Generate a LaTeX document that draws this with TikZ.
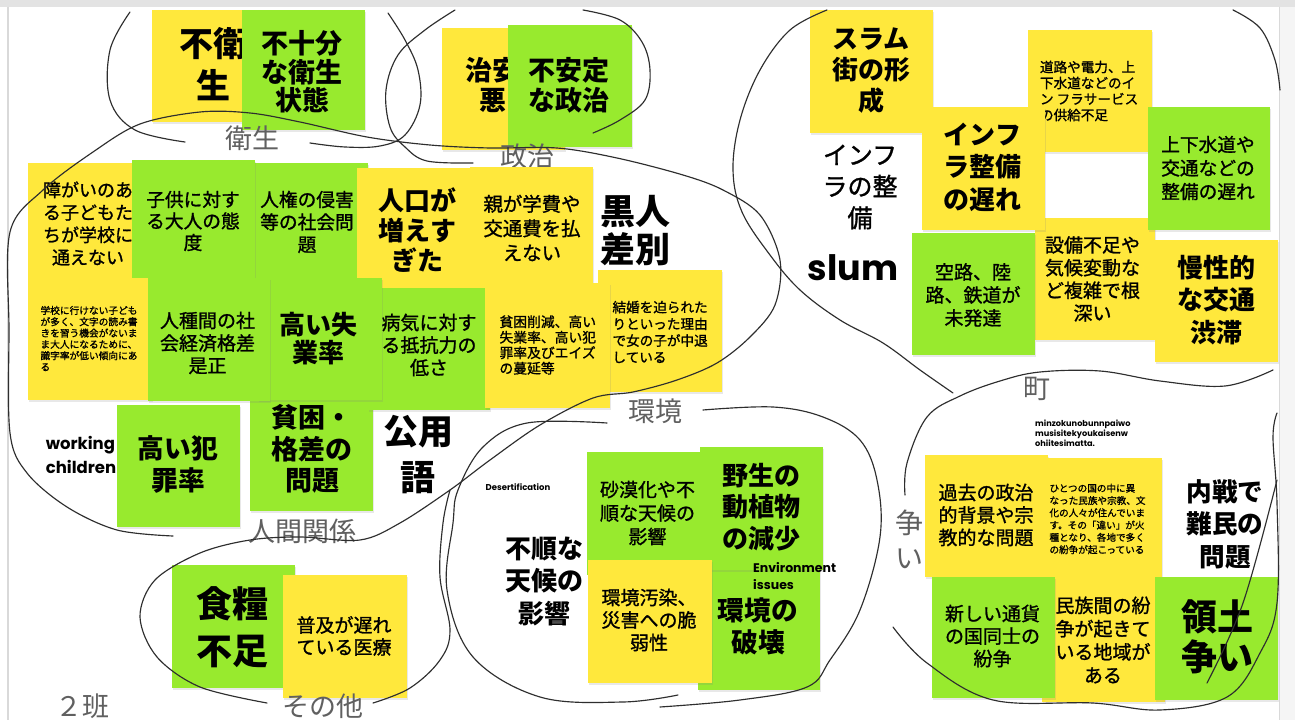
\documentclass[tikz,border=0pt]{standalone}
\usepackage{fontspec}
\newfontfamily\jpf{Noto Sans CJK JP}
\newfontfamily\jpm{Noto Sans CJK JP}[FakeBold=1.2]
\newfontfamily\popf{Poppins}
\usetikzlibrary{shadows}
\definecolor{yel}{HTML}{FFE83C}
\definecolor{grn}{HTML}{98EA2E}
\definecolor{lab}{HTML}{606060}
\definecolor{pen}{HTML}{2E2E2E}
\begin{document}
\begin{tikzpicture}[x=1bp,y=-1bp,
 stk/.style={fill=#1, draw=none, inner sep=0pt, outer sep=0pt, drop shadow={opacity=0.18, shadow xshift=0.8bp, shadow yshift=-1.6bp}},
 tr/.style 2 args={font={\jpm\fontsize{#1bp}{#2bp}\selectfont}, align=center, inner sep=0pt},
 tb/.style 2 args={font={\jpf\bfseries\fontsize{#1bp}{#2bp}\selectfont}, align=center, inner sep=0pt},
 ts/.style n args={3}{font={\jpm\fontsize{#1bp}{#2bp}\selectfont}, text width=#3bp, align=flush left, inner sep=0pt},
 lb/.style={font={\jpf\fontsize{27bp}{34bp}\selectfont}, text=lab, align=center, inner sep=0pt},
 en/.style 2 args={font={\popf\bfseries\fontsize{#1bp}{#2bp}\selectfont}, align=left, inner sep=0pt},
 ink/.style={draw=pen, line width=1.15bp, line cap=round, line join=round}
]
\useasboundingbox (0,0) rectangle (1295,720);
\fill[white] (0,0) rectangle (1295,720);
% frame
\fill[black!11] (0,0) rectangle (1295,7);
\fill[black!4] (1279,7) rectangle (1295,720);
\draw[black!15, line width=1bp] (1279,7) -- (1279,720);
\draw[black!15, line width=2bp] (7.5,7) -- (7.5,720);

% ---- top left: eisei
\node[stk=yel, minimum width=120bp, minimum height=112bp] (n1) at (212,66) {};
\node[tb={34}{42}] (t1) at (213,64) {不衛\\生};
\node[stk=grn, minimum width=123bp, minimum height=120bp] (n2) at (303.5,70) {};
\node[tb={27}{28.5}] (t2) at (302,72) {不十分\\な衛生\\状態};
\node[lb] (l1) at (252,138) {衛生};

% ---- seiji
\node[stk=yel, minimum width=123bp, minimum height=122bp] (n3) at (503.5,89) {};
\node[tb={27}{30}] (t3) at (506,85) {治安が\\悪い};
\node[stk=grn, minimum width=124bp, minimum height=122bp] (n4) at (570,86) {};
\node[tb={27}{30}] (t4) at (569,85) {不安定\\な政治};
\node[lb] (l2) at (527,156) {政治};

% ---- slum
\node[stk=yel, minimum width=123bp, minimum height=123bp] (n5) at (871.5,71.5) {};
\node[tb={26}{31}] (t5) at (871,71) {スラム\\街の形\\成};
\node[stk=yel, minimum width=124bp, minimum height=122bp] (n6) at (1090,91) {};
\node[ts={13.6}{16}{100}] (t6) at (1090,91) {道路や電力、上\\下水道などのイ\\ン~フラサービス\\の供給不足};
\node[stk=yel, minimum width=120bp, minimum height=122bp] (n7) at (1095,279) {};
\node[tr={19}{22.7}] (t7) at (1092.5,279) {設備不足や\\気候変動な\\ど複雑で根\\深い};
\node[stk=yel, minimum width=123bp, minimum height=123bp] (n8) at (983.5,168.5) {};
\node[tb={26}{32.5}] (t8) at (982.5,167) {インフ\\ラ整備\\の遅れ};
\node[stk=grn, minimum width=122bp, minimum height=123bp] (n9) at (1209,168.5) {};
\node[tr={18.7}{23.5}] (t9) at (1208,168) {上下水道や\\交通などの\\整備の遅れ};
\node[stk=grn, minimum width=123bp, minimum height=122bp] (n10) at (973.5,294) {};
\node[tr={19}{23}] (t10) at (973,295) {空路、陸\\路、鉄道が\\未発達};
\node[stk=yel, minimum width=123bp, minimum height=122bp] (n11) at (1216.5,301) {};
\node[tb={26}{32.5}] (t11) at (1216,300) {慢性的\\な交通\\渋滞};
\node[tr={25}{31.5}] (t12) at (860,187) {インフ\\ラの整\\備};
\node[en={35}{40}] (t13) at (853,268) {slum};

% ---- left block
\node[stk=yel, minimum width=122bp, minimum height=122bp] (n12) at (89,224) {};
\node[tr={18}{22.5}] (t14) at (88,223.5) {障がいのあ\\る子どもた\\ちが学校に\\通えない};
\node[stk=grn, minimum width=123bp, minimum height=122bp] (n13) at (306.5,224) {};
\node[tr={18.7}{22.5}] (t15) at (307,222) {人権の侵害\\等の社会問\\題};
\node[stk=grn, minimum width=123bp, minimum height=120bp] (n14) at (193.5,220) {};
\node[tr={18.7}{21.5}] (t16) at (193,221) {子供に対す\\る大人の態\\度};
\node[stk=yel, minimum width=123bp, minimum height=122bp] (n15) at (418.5,229) {};
\node[tb={26}{30}] (t17) at (417,230) {人口が\\増えす\\ぎた};
\node[stk=yel, minimum width=123bp, minimum height=123bp] (n16) at (531.5,228.5) {};
\node[tr={19.4}{24.5}] (t18) at (532,228) {親が学費や\\交通費を払\\えない};
\node[tb={35}{38}] (t19) at (635,231) {黒人\\差別};

\node[stk=grn, minimum width=123bp, minimum height=122bp] (n23) at (178.5,466) {};
\node[tb={26.7}{32}] (t20) at (178,464) {高い犯\\罪率};
\node[stk=grn, minimum width=123bp, minimum height=122bp] (n24) at (311.5,450) {};
\node[tb={27}{31.5}] (t21) at (312,449) {貧困・\\格差の\\問題};

\node[stk=yel, minimum width=124bp, minimum height=122bp] (n17) at (90,339) {};
\node[ts={9.7}{11.3}{98}] (t22) at (89.5,338.5) {学校に行けない子ども\\が多く、文字の読み書\\きを習う機会がないま\\ま大人になるために、\\識字率が低い傾向にあ\\る};
\node[stk=grn, minimum width=122bp, minimum height=122bp] (n18) at (429,349) {};
\node[tr={19}{22.5}] (t23) at (429,345) {病気に対す\\る抵抗力の\\低さ};
\node[stk=grn, minimum width=124bp, minimum height=122bp] (n19) at (320,339) {};
\node[tb={26}{27.5}] (t24) at (318.5,338.5) {高い失\\業率};
\node[stk=grn, minimum width=122bp, minimum height=123bp] (n20) at (209,339.5) {};
\node[tr={19}{22.5}] (t25) at (207.5,343) {人種間の社\\会経済格差\\是正};
\node[stk=yel, minimum width=124bp, minimum height=122bp] (n21) at (660,331) {};
\node[ts={13.6}{16.7}{96}] (t26) at (660.5,332) {結婚を迫られた\\りといった理由\\で女の子が中退\\している};
\node[stk=yel, minimum width=125bp, minimum height=125bp] (n22) at (547.5,345.5) {};
\node[ts={13.8}{15.5}{98}] (t27) at (548.5,345) {貧困削減、高い\\失業率、高い犯\\罪率及びエイズ\\の蔓延等};

\node[en={16.5}{24}] (t28) at (81,455) {working\\children};
\node[tb={35}{46}] (t29) at (418,455) {公用\\語};
\node[lb] (l3) at (302,531) {人間関係};

% ---- sonota
\node[stk=grn, minimum width=123bp, minimum height=123bp] (n25) at (233.5,626.5) {};
\node[tb={36}{47}] (t30) at (232.5,627) {食糧\\不足};
\node[stk=yel, minimum width=124bp, minimum height=123bp] (n26) at (345,636.5) {};
\node[tr={19}{22}] (t31) at (344,636) {普及が遅れ\\ている医療};
\node[lb] (l4) at (323,706) {その他};
\node[lb] (l5) at (82,706) {２班};

% ---- kankyou
\node[lb] (l6) at (655,411) {環境};
\node[en={8.5}{10}] (t32) at (518,487) {Desertification};
\node[tb={26}{32.5}] (t33) at (544,581) {不順な\\天候の\\影響};
\node[stk=grn, minimum width=122bp, minimum height=122bp] (n27) at (759,629) {};
\node[tb={26.7}{32}] (t34) at (758,626) {環境の\\破壊};
\node[stk=grn, minimum width=121bp, minimum height=123bp] (n28) at (647.5,513.5) {};
\node[tr={19}{23.5}] (t35) at (647.5,513) {砂漠化や不\\順な天候の\\影響};
\node[stk=grn, minimum width=123bp, minimum height=123bp] (n29) at (761.5,508.5) {};
\node[tb={26}{31.5}] (t36) at (761,507) {野生の\\動植物\\の減少};
\node[stk=yel, minimum width=124bp, minimum height=123bp] (n30) at (650,621.5) {};
\node[tr={19}{22.5}] (t37) at (649,620) {環境汚染、\\災害への脆\\弱性};
\node[en={12.5}{17}, anchor=west] (t38) at (753,576.5) {Environment\\issues};

% ---- machi
\node[lb] (l7) at (1037,389) {町};
\node[en={8.2}{10}, anchor=west] (t39) at (1035,433) {minzokunobunnpaiwo\\musisitekyoukaisenw\\ohiitesimatta.};
\node[lb, font={\jpf\fontsize{28bp}{35bp}\selectfont}] (l8) at (909,539.5) {争\\い};
\node[stk=yel, minimum width=123bp, minimum height=122bp] (n31) at (986.5,516) {};
\node[tr={19}{22.5}] (t40) at (986,515) {過去の政治\\的背景や宗\\教的な問題};
\node[stk=yel, minimum width=125bp, minimum height=122bp] (n32) at (1099.5,519) {};
\node[ts={9.6}{12.3}{96}] (t41) at (1097.5,519) {ひとつの国の中に異\\なった民族や宗教、文\\化の人々が住んでいま\\す。その「違い」が火\\種となり、各地で多く\\の紛争が起こっている};
\node[tb={25.6}{32.5}] (t42) at (1225,524) {内戦で\\難民の\\問題};
\node[stk=yel, minimum width=123bp, minimum height=122bp] (n33) at (1103.5,641) {};
\node[tr={19}{23.3}] (t43) at (1103,640) {民族間の紛\\争が起きて\\いる地域が\\ある};
\node[stk=grn, minimum width=123bp, minimum height=121bp] (n34) at (993.5,637.5) {};
\node[tr={19}{22.5}] (t44) at (992.5,636) {新しい通貨\\の国同士の\\紛争};
\node[stk=grn, minimum width=123bp, minimum height=123bp] (n35) at (1216.5,638.5) {};
\node[tb={36}{40}] (t45) at (1217.5,637) {領土\\争い};

% ---- hand drawn strokes
\draw[ink] plot[smooth, tension=0.6] coordinates {(130,12) (110,50) (110,100) (135,130) (185,142)};
\draw[ink] plot[smooth, tension=0.6] coordinates {(310,143) (345,147) (380,146) (405,135) (420,105) (418,70) (405,40) (388,13)};
\draw[ink] plot[smooth, tension=0.6] coordinates {(455,10) (425,30) (398,55) (386,90) (390,127) (405,147) (427,161) (473,163)};
\draw[ink] plot[smooth, tension=0.6] coordinates {(583,10) (620,20) (642,42) (650,70) (645,100) (620,120) (593,133)};
\draw[ink] plot[smooth, tension=0.55] coordinates {(173,536) (117,530) (67,507) (27,473) (10,433) (9,330) (10,232) (43,190) (93,152) (140,124) (200,112) (250,113) (300,122) (367,137) (430,145) (490,148) (557,148) (617,158) (683,175) (723,190) (760,215) (780,260) (775,305) (750,337) (717,363) (677,380) (633,392) (593,398) (540,425) (490,460) (450,490) (400,523) (360,540) (300,537) (250,540) (200,553) (155,580) (140,617) (157,657) (200,687) (267,703)};
\draw[ink] plot[smooth, tension=0.6] coordinates {(373,703) (410,688) (440,660) (450,630) (440,577) (443,523) (450,490)};
\draw[ink] plot[smooth, tension=0.6] coordinates {(827,10) (790,30) (760,70) (740,120) (733,170) (742,212) (770,255) (800,290) (840,320) (883,343) (920,370) (953,393)};
\draw[ink] plot[smooth, tension=0.6] coordinates {(1233,10) (1260,28) (1275,60) (1280,90)};
\draw[ink] plot[smooth, tension=0.6] coordinates {(607,423) (527,423) (483,447) (458,490) (453,523) (447,590) (473,657) (540,697) (623,702) (678,695)};
\draw[ink] plot[smooth, tension=0.6] coordinates {(703,410) (773,407) (823,417) (860,440) (877,480) (880,537) (860,610) (830,660) (807,687) (740,700) (660,707)};
\draw[ink] plot[smooth, tension=0.6] coordinates {(905,495) (907,463) (927,417) (960,396) (1000,381) (1040,372) (1100,371) (1160,381) (1225,386) (1273,370)};
\draw[ink] plot[smooth, tension=0.6] coordinates {(893,627) (927,663) (993,700) (1093,703) (1160,710) (1227,697) (1260,653) (1277,603) (1277,503) (1273,437) (1277,413)};
\draw[ink] plot[smooth, tension=0.6] coordinates {(1207,683) (1243,603) (1277,480)};
\end{tikzpicture}
\end{document}
